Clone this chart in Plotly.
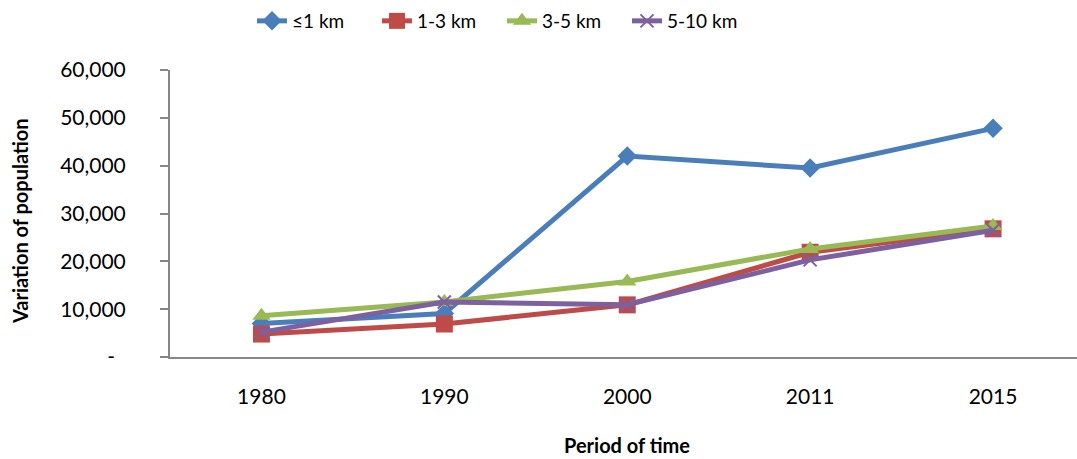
import plotly.graph_objects as go

years = ["1980", "1990", "2000", "2011", "2015"]
le1km = [7000, 9100, 42000, 39500, 47800]
km1_3 = [4800, 6900, 10900, 21900, 26800]
km3_5 = [8600, 11500, 15800, 22600, 27400]
km5_10 = [5200, 11500, 10900, 20300, 26500]

y_tickvals = [0, 10000, 20000, 30000, 40000, 50000, 60000]
y_ticktext = ["-\u00a0\u00a0", "10,000", "20,000", "30,000", "40,000", "50,000", "60,000"]

series = [
    ("≤1 km", le1km, "#4A7EBB", "diamond", 15),
    ("1-3 km", km1_3, "#BE4B48", "square", 17),
    ("3-5 km", km3_5, "#98B954", "triangle-up", 16),
    ("5-10 km", km5_10, "#7D60A0", "x-thin", 13),
]

fig = go.Figure()
for name, vals, col, sym, sz in series:
    marker = dict(symbol=sym, size=sz, color=col)
    if sym == "x-thin":
        marker["line"] = dict(color=col, width=2)
    else:
        marker["line"] = dict(width=0)
    fig.add_trace(go.Scatter(
        x=years, y=vals, name=name, mode="lines+markers",
        line=dict(color=col, width=5), marker=marker,
    ))

font_family = "Lato, 'Open Sans', sans-serif"
W, H = 1077, 459
fig.update_layout(
    width=W, height=H,
    margin=dict(l=170, r=0, t=70, b=102, autoexpand=False),
    paper_bgcolor="white", plot_bgcolor="white",
    font=dict(family=font_family, size=21, color="#000000"),
    legend=dict(orientation="h", xref="container", yref="container",
                x=252 / W, xanchor="left", y=1 - 21 / H, yanchor="middle",
                font=dict(size=19), entrywidth=80, entrywidthmode="pixels"),
    showlegend=True,
    xaxis=dict(type="category", range=[-0.5, 4.459], showline=True, linecolor="#868686",
               linewidth=2, ticks="", showgrid=False, zeroline=False, automargin=False,
               ticklabelstandoff=20),
    yaxis=dict(range=[0, 60000], tickvals=y_tickvals, ticktext=y_ticktext,
               showline=True, linecolor="#868686", linewidth=2, ticks="outside",
               ticklen=8, tickcolor="#868686", tickwidth=1.5, showgrid=False, zeroline=False,
               automargin=False, ticklabelstandoff=30),
    annotations=[
        dict(text="<b>Period of time</b>", xref="paper", yref="paper",
             x=(627 - 170) / (W - 170), y=-(445 - 357) / (357 - 70),
             xanchor="center", yanchor="middle", showarrow=False, font=dict(size=20)),
        dict(text="<b>Variation of population</b>", xref="paper", yref="paper",
             x=-(170 - 20) / (W - 170), y=(357 - 221) / (357 - 70), textangle=-90,
             xanchor="center", yanchor="middle", showarrow=False, font=dict(size=20)),
    ],
)

fig.write_html(
    "out.html",
    config={"displayModeBar": False},
    post_script="document.body.style.margin='0';document.body.style.padding='0';"
                "document.body.style.overflow='hidden';",
)
